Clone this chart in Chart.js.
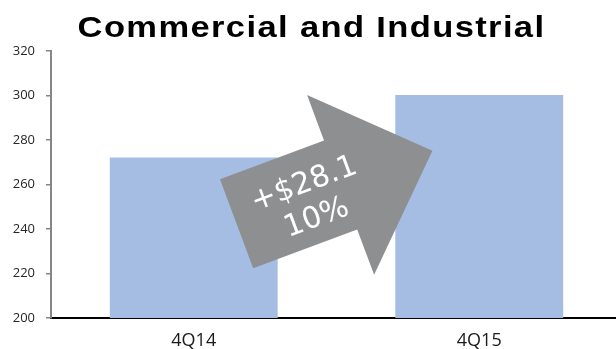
<!DOCTYPE html>
<html>
<head>
<meta charset="utf-8">
<script src="https://cdn.jsdelivr.net/npm/chart.js@4.4.1/dist/chart.umd.min.js"></script>
<style>
  html, body { margin: 0; padding: 0; background: #fff; overflow: hidden; }
  #wrap { width: 616px; height: 349px; position: relative; overflow: hidden; }
</style>
</head>
<body>
<div id="wrap"><canvas id="c" width="622" height="349"></canvas></div>
<script>
// Commercial and Industrial loan balances, quarter over quarter
const categories = ['4Q14', '4Q15'];
const balances = [272.1, 300.2];
const yRange = { min: 200, max: 320, step: 20 };
const chartTitle = 'Commercial and Industrial';
const changeLines = ['+$28.1', '10%'];
// arrow runs from a point over the first bar to a point over the second (category index, value)
const arrowFrom = [0.15, 242.4];
const arrowTo = [0.836, 275.2];

const BAR_COLOR = '#a5bde2';
const ARROW_COLOR = '#8e8f91';
const AXIS_GRAY = '#868686';

// Wide bold heading drawn above the plot
const titlePlugin = {
  id: 'wideTitle',
  afterDraw(chart) {
    const ctx = chart.ctx;
    ctx.save();
    ctx.font = 'bold 30px "Liberation Sans", Arial, sans-serif';
    ctx.fillStyle = '#000';
    ctx.textAlign = 'center';
    ctx.textBaseline = 'alphabetic';
    if ('letterSpacing' in ctx) ctx.letterSpacing = '1.2px';
    ctx.translate(311.5, 37);
    ctx.scale(1.15, 1);
    ctx.fillText(chartTitle, 0, 0);
    ctx.restore();
  }
};

// Block arrow with the change annotation, placed through the chart scales
const arrowPlugin = {
  id: 'changeArrow',
  afterDatasetsDraw(chart) {
    const { ctx, scales: { x, y } } = chart;
    const tx = x.getPixelForValue(arrowFrom[0]), ty = y.getPixelForValue(arrowFrom[1]);
    const px = x.getPixelForValue(arrowTo[0]), py = y.getPixelForValue(arrowTo[1]);
    const len = Math.hypot(px - tx, py - ty);
    const ang = Math.atan2(py - ty, px - tx);
    const shaftHalf = 47.5, headHalf = 96, headLen = 98;
    const shaftLen = len - headLen;
    ctx.save();
    ctx.translate(tx, ty);
    ctx.rotate(ang);
    ctx.beginPath();
    ctx.moveTo(0, -shaftHalf);
    ctx.lineTo(shaftLen, -shaftHalf);
    ctx.lineTo(shaftLen, -headHalf);
    ctx.lineTo(len, 0);
    ctx.lineTo(shaftLen, headHalf);
    ctx.lineTo(shaftLen, shaftHalf);
    ctx.lineTo(0, shaftHalf);
    ctx.closePath();
    ctx.fillStyle = ARROW_COLOR;
    ctx.fill();
    ctx.fillStyle = '#fff';
    ctx.font = '30px "DejaVu Sans", Verdana, sans-serif';
    ctx.textAlign = 'center';
    ctx.textBaseline = 'middle';
    ctx.fillText(changeLines[0], 77, 5 - 18);
    ctx.fillText(changeLines[1], 77, 5 + 18);
    ctx.restore();
  }
};

new Chart(document.getElementById('c'), {
  type: 'bar',
  data: {
    labels: categories,
    datasets: [{
      data: balances,
      backgroundColor: BAR_COLOR,
      borderWidth: 0,
      categoryPercentage: 1,
      barPercentage: 0.588
    }]
  },
  options: {
    responsive: false,
    animation: false,
    events: [],
    layout: { padding: { top: 51, left: 0, right: 0, bottom: 0 } },
    plugins: {
      legend: { display: false },
      tooltip: { enabled: false },
      title: { display: false }
    },
    scales: {
      x: {
        grid: { display: false, drawTicks: false },
        border: { display: true, color: '#000', width: 2 },
        ticks: {
          font: { family: '"Open Sans", sans-serif', size: 18 },
          color: '#1a1a1a',
          padding: 12
        },
        afterFit(scale) { scale.height = 31; }
      },
      y: {
        min: yRange.min,
        max: yRange.max,
        grid: {
          display: true,
          drawOnChartArea: false,
          drawTicks: true,
          tickLength: 5,
          color: AXIS_GRAY,
          lineWidth: 1.5
        },
        border: { display: true, color: AXIS_GRAY, width: 2 },
        ticks: {
          stepSize: yRange.step,
          font: { family: '"Open Sans", sans-serif', size: 13 },
          color: '#262626',
          padding: 11
        },
        afterFit(scale) { scale.width = 51; }
      }
    }
  },
  plugins: [arrowPlugin, titlePlugin]
});
</script>
</body>
</html>
